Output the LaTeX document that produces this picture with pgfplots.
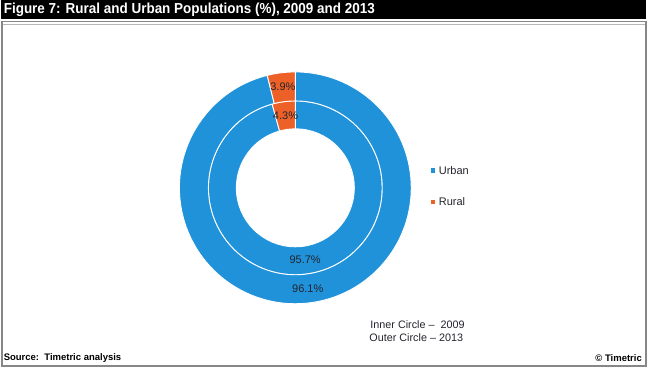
\documentclass[border=0pt]{standalone}
\usepackage{pgfplots}
\usepackage{pgfplotstable}
\pgfplotsset{compat=1.18}
\usepackage{fontspec}
\setmainfont{Liberation Sans}
\newfontfamily\narrowfont[FakeStretch=0.93]{Liberation Sans}
\definecolor{urbanblue}{RGB}{32,146,218}
\definecolor{ruralorange}{RGB}{237,97,40}
\definecolor{framegray}{RGB}{135,135,135}
\definecolor{labeltext}{RGB}{35,35,45}

\pgfplotstableread{
ring urban rural
2009 95.7 4.3
2013 96.1 3.9
}\popdata

\begin{document}
\begin{tikzpicture}[x=1pt,y=1pt]
\path (0,0) rectangle (649,368);
% header bar
\fill[black] (0,368) rectangle (646,349);
\node[anchor=west, text=white, font=\narrowfont\bfseries\fontsize{14.5}{16}\selectfont, inner sep=0] at (3,358.5) {Figure 7: Rural and Urban Populations (\%), 2009 and 2013};
\draw[framegray, line width=1.2pt] (0,346.5) -- (647,346.5);
\draw[framegray!60, line width=0.8pt] (0,343.8) -- (647,343.8);
\draw[framegray, line width=1.5pt] (1.5,346.5) -- (1.5,1.5) -- (646,1.5) -- (646,346.5);

% values
\pgfplotstablegetelem{0}{rural}\of\popdata \let\rA\pgfplotsretval
\pgfplotstablegetelem{1}{rural}\of\popdata \let\rB\pgfplotsretval
\pgfplotstablegetelem{0}{urban}\of\popdata \let\uA\pgfplotsretval
\pgfplotstablegetelem{1}{urban}\of\popdata \let\uB\pgfplotsretval
\pgfmathsetmacro\aA{90+3.6*\rA}
\pgfmathsetmacro\aB{90+3.6*\rB}
\pgfmathsetmacro\mrA{90+1.8*\rA}
\pgfmathsetmacro\mrB{90+1.8*\rB}
\pgfmathsetmacro\muA{\aA+1.8*\uA}
\pgfmathsetmacro\muB{\aB+1.8*\uB}
\def\rh{0.509}\def\rm{0.75}\def\ro{1}

\begin{axis}[at={(295pt,180pt)}, anchor=center, width=232pt, height=232pt,
  scale only axis, xmin=-1, xmax=1, ymin=-1, ymax=1, hide axis, clip=false]
% inner ring 2009
\fill[urbanblue, draw=white, line width=0.9pt] (axis cs:{\rm*cos(\aA)},{\rm*sin(\aA)}) arc[start angle=\aA, end angle=450, radius=\rm] -- (axis cs:{\rh*cos(450)},{\rh*sin(450)}) arc[start angle=450, end angle=\aA, radius=\rh] -- cycle;
\fill[ruralorange, draw=white, line width=0.9pt] (axis cs:{\rm*cos(90)},{\rm*sin(90)}) arc[start angle=90, end angle=\aA, radius=\rm] -- (axis cs:{\rh*cos(\aA)},{\rh*sin(\aA)}) arc[start angle=\aA, end angle=90, radius=\rh] -- cycle;
% outer ring 2013
\fill[urbanblue, draw=white, line width=0.9pt] (axis cs:{\ro*cos(\aB)},{\ro*sin(\aB)}) arc[start angle=\aB, end angle=450, radius=\ro] -- (axis cs:{\rm*cos(450)},{\rm*sin(450)}) arc[start angle=450, end angle=\aB, radius=\rm] -- cycle;
\fill[ruralorange, draw=white, line width=0.9pt] (axis cs:{\ro*cos(90)},{\ro*sin(90)}) arc[start angle=90, end angle=\aB, radius=\ro] -- (axis cs:{\rm*cos(\aB)},{\rm*sin(\aB)}) arc[start angle=\aB, end angle=90, radius=\rm] -- cycle;
% labels
\node[text=labeltext, font=\fontsize{11}{13}\selectfont] at (axis cs:{0.63*cos(\mrA)},{0.63*sin(\mrA)}) {\rA\%};
\node[text=labeltext, font=\fontsize{11}{13}\selectfont] at (axis cs:{0.88*cos(\mrB)},{0.88*sin(\mrB)}) {\rB\%};
\node[text=labeltext, font=\fontsize{11}{13}\selectfont] at (axis cs:{0.63*cos(\muA)},{0.63*sin(\muA)}) {\uA\%};
\node[text=labeltext, font=\fontsize{11}{13}\selectfont] at (axis cs:{0.875*cos(\muB)},{0.875*sin(\muB)}) {\uB\%};
\end{axis}

% legend
\fill[urbanblue] (430.5,195) rectangle (435,199.5);
\node[anchor=west, inner sep=0, text=labeltext, font=\fontsize{11}{13}\selectfont] at (438.5,197.5) {Urban};
\fill[ruralorange] (430.5,163.5) rectangle (435,168);
\node[anchor=west, inner sep=0, text=labeltext, font=\fontsize{11}{13}\selectfont] at (438.5,166) {Rural};

% notes
\node[anchor=west, inner sep=0, text=labeltext, font=\fontsize{10.8}{13}\selectfont] at (370,43) {Inner Circle --\ \ 2009};
\node[anchor=west, inner sep=0, text=labeltext, font=\fontsize{10.8}{13}\selectfont] at (369,30) {Outer Circle -- 2013};

% footer
\node[anchor=west, inner sep=0, font=\bfseries\fontsize{9.5}{11}\selectfont] at (3,10) {Source:\ \ Timetric analysis};
\node[anchor=east, inner sep=0, font=\bfseries\fontsize{9.5}{11}\selectfont] at (642,10) {\textcopyright\ Timetric};
\end{tikzpicture}
\end{document}
